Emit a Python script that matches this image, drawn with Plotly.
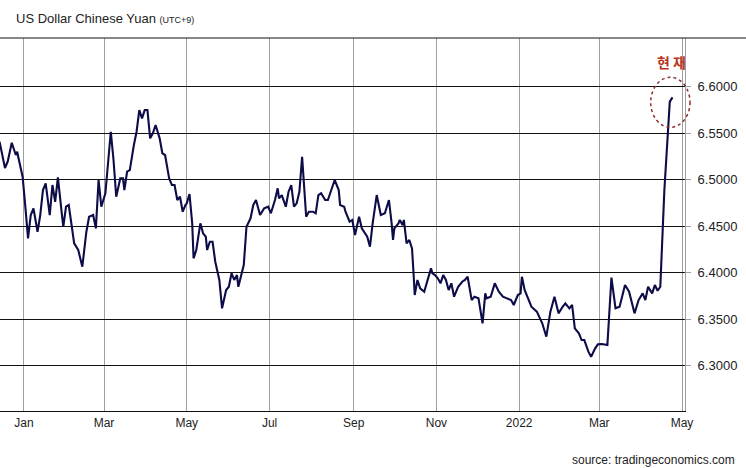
import plotly.graph_objects as go

dates = [
"2020-12-14","2020-12-18","2020-12-20","2020-12-23","2020-12-26","2020-12-27","2020-12-28","2020-12-31",
"2021-01-02","2021-01-04","2021-01-06","2021-01-08","2021-01-11","2021-01-13","2021-01-15","2021-01-17",
"2021-01-20","2021-01-22","2021-01-24","2021-01-26","2021-01-29","2021-01-30","2021-02-01","2021-02-03",
"2021-02-07","2021-02-10","2021-02-13","2021-02-16","2021-02-18","2021-02-21","2021-02-23","2021-02-25",
"2021-02-27","2021-03-02","2021-03-06","2021-03-08","2021-03-10","2021-03-13","2021-03-15","2021-03-16",
"2021-03-18","2021-03-20","2021-03-23","2021-03-25","2021-03-27","2021-03-29","2021-03-31","2021-04-02",
"2021-04-04","2021-04-06","2021-04-08","2021-04-11","2021-04-13","2021-04-15","2021-04-18","2021-04-20",
"2021-04-22","2021-04-24","2021-04-26","2021-04-28","2021-04-30","2021-05-01","2021-05-03","2021-05-05",
"2021-05-06","2021-05-08","2021-05-11","2021-05-13","2021-05-15","2021-05-16","2021-05-18","2021-05-20",
"2021-05-22","2021-05-25","2021-05-27","2021-05-30","2021-06-01","2021-06-03","2021-06-05","2021-06-07",
"2021-06-08","2021-06-10","2021-06-12","2021-06-14","2021-06-17","2021-06-19","2021-06-21","2021-06-24",
"2021-06-27","2021-06-30","2021-07-02","2021-07-05","2021-07-07","2021-07-08","2021-07-10","2021-07-13",
"2021-07-15","2021-07-17","2021-07-19","2021-07-21","2021-07-23","2021-07-25","2021-07-27","2021-07-28",
"2021-07-30","2021-08-02","2021-08-04","2021-08-06","2021-08-08","2021-08-11","2021-08-13","2021-08-16",
"2021-08-18","2021-08-21","2021-08-22","2021-08-25","2021-08-26","2021-08-29","2021-08-31","2021-09-02",
"2021-09-05","2021-09-07","2021-09-11","2021-09-13","2021-09-15","2021-09-18","2021-09-21","2021-09-24",
"2021-09-27","2021-09-29","2021-09-30","2021-10-01","2021-10-04","2021-10-05","2021-10-07","2021-10-08",
"2021-10-10","2021-10-12","2021-10-14","2021-10-15","2021-10-16","2021-10-18","2021-10-20","2021-10-23",
"2021-10-25","2021-10-28","2021-10-29","2021-10-31","2021-11-02","2021-11-04","2021-11-06","2021-11-08",
"2021-11-10","2021-11-12","2021-11-14","2021-11-17","2021-11-20","2021-11-22","2021-11-24","2021-11-27",
"2021-11-29","2021-12-02","2021-12-05","2021-12-07","2021-12-08","2021-12-11","2021-12-14","2021-12-17",
"2021-12-20","2021-12-23","2021-12-26","2021-12-28","2021-12-31","2022-01-02","2022-01-03","2022-01-05",
"2022-01-08","2022-01-10","2022-01-14","2022-01-18","2022-01-21","2022-01-24","2022-01-27","2022-01-30",
"2022-02-02","2022-02-04","2022-02-07","2022-02-09","2022-02-11","2022-02-14","2022-02-16","2022-02-18",
"2022-02-21","2022-02-23","2022-02-26","2022-02-28","2022-03-03","2022-03-07","2022-03-10","2022-03-13",
"2022-03-16","2022-03-20","2022-03-23","2022-03-27","2022-03-30","2022-04-02","2022-04-04","2022-04-06",
"2022-04-09","2022-04-11","2022-04-13","2022-04-15","2022-04-18","2022-04-21","2022-04-22","2022-04-24",
]

rates = [
6.5409,6.5126,6.5194,6.5398,6.5266,6.5301,6.5230,6.5032,
6.4710,6.4370,6.4620,6.4692,6.4441,6.4620,6.4889,6.4961,
6.4620,6.4943,6.4763,6.5026,6.4620,6.4495,6.4710,6.4728,
6.4316,6.4244,6.4065,6.4441,6.4602,6.4620,6.4477,6.4997,
6.4710,6.4854,6.5516,6.5212,6.4817,6.5015,6.5015,6.4889,
6.5086,6.5104,6.5373,6.5516,6.5749,6.5660,6.5749,6.5749,
6.5445,6.5499,6.5588,6.5445,6.5284,6.5266,6.5015,6.4943,
6.4943,6.4782,6.4817,6.4656,6.4728,6.4746,6.4846,6.4531,
6.4155,6.4244,6.4531,6.4424,6.4387,6.4244,6.4333,6.4333,
6.4118,6.3922,6.3617,6.3814,6.3849,6.3994,6.3922,6.3975,
6.3849,6.3957,6.4083,6.4495,6.4585,6.4728,6.4782,6.4620,
6.4692,6.4710,6.4639,6.4782,6.4908,6.4800,6.4835,6.4710,
6.4871,6.4943,6.4710,6.4746,6.4871,6.5247,6.4817,6.4602,
6.4656,6.4656,6.4639,6.4835,6.4854,6.4782,6.4782,6.4925,
6.4997,6.4889,6.4728,6.4710,6.4656,6.4548,6.4567,6.4405,
6.4602,6.4477,6.4387,6.4280,6.4531,6.4835,6.4620,6.4639,
6.4782,6.4531,6.4352,6.4477,6.4531,6.4567,6.4513,6.4567,
6.4316,6.4352,6.4262,6.4029,6.3760,6.3922,6.3832,6.3796,
6.3903,6.4047,6.3994,6.3975,6.3940,6.3886,6.3975,6.3922,
6.3814,6.3886,6.3742,6.3849,6.3903,6.3922,6.3957,6.3706,
6.3742,6.3725,6.3456,6.3778,6.3725,6.3742,6.3886,6.3796,
6.3742,6.3725,6.3706,6.3653,6.3760,6.3778,6.3957,6.3814,
6.3706,6.3634,6.3581,6.3456,6.3312,6.3581,6.3742,6.3563,
6.3634,6.3671,6.3617,6.3653,6.3402,6.3348,6.3276,6.3276,
6.3151,6.3097,6.3187,6.3230,6.3233,6.3222,6.3948,6.3617,
6.3634,6.3868,6.3796,6.3563,6.3706,6.3778,6.3706,6.3849,
6.3778,6.3868,6.3806,6.3849,6.4889,6.5588,6.5839,6.5886,
]

tick_dates = ["2021-01-01","2021-03-01","2021-05-01","2021-07-01","2021-09-01",
              "2021-11-01","2022-01-01","2022-03-01","2022-05-01"]
tick_labels = ["Jan","Mar","May","Jul","Sep","Nov","2022","Mar","May"]
y_ticks = [6.30, 6.35, 6.40, 6.45, 6.50, 6.55, 6.60]
y_tick_labels = ["6.3000","6.3500","6.4000","6.4500","6.5000","6.5500","6.6000"]

W, H = 746, 468
L, R, T, B = 0, 61, 38, 57
PW, PH = W - L - R, H - T - B

fig = go.Figure()
fig.add_trace(go.Scatter(
    x=dates, y=rates, mode="lines",
    line=dict(color="#0c0c48", width=2.1),
    hoverinfo="x+y", showlegend=False,
))

fig.update_layout(
    width=W, height=H,
    margin=dict(l=L, r=R, t=T, b=B, pad=0),
    paper_bgcolor="white", plot_bgcolor="white",
    font=dict(family="Liberation Sans, Arial, sans-serif", color="#222"),
    xaxis=dict(
        range=["2020-12-14 08:00", "2022-05-03 05:00"],
        tickvals=tick_dates, ticktext=tick_labels,
        showgrid=True, gridcolor="#a0a0a0", gridwidth=1,
        showline=True, linecolor="#111", linewidth=1.2,
        ticks="", tickfont=dict(size=12, color="#222"),
        zeroline=False,
    ),
    yaxis=dict(
        side="right", range=[6.2513, 6.6524],
        tickvals=y_ticks, ticktext=y_tick_labels,
        showgrid=True, gridcolor="#111", gridwidth=1,
        showline=True, linecolor="#a0a0a0", linewidth=1,
        ticks="outside", ticklen=5, tickcolor="#a0a0a0",
        ticklabelstandoff=4,
        tickfont=dict(size=13, color="#222"),
        zeroline=False,
    ),
)

# top border line across the full width
fig.add_shape(type="line", xref="paper", yref="paper",
              x0=0, x1=W / PW, y0=1, y1=1,
              line=dict(color="#111", width=1.2))

# dotted circle marking the latest value
fig.add_shape(type="circle", xref="paper", yref="paper",
              x0=650.7 / PW, x1=690 / PW,
              y0=(411 - 127.3) / PH, y1=(411 - 77.3) / PH,
              line=dict(color="#8e2c2c", width=1.5, dash="dot"))

fig.add_annotation(xref="paper", yref="paper", x=14 / PW, y=1 + (38 - 19) / PH,
                   xanchor="left", yanchor="middle", showarrow=False,
                   text="US Dollar Chinese Yuan <span style='font-size:9px'>(UTC+9)</span>",
                   font=dict(size=13, color="#222"))

fig.add_annotation(xref="paper", yref="paper", x=671 / PW, y=(411 - 62) / PH,
                   xanchor="center", yanchor="middle", showarrow=False,
                   text="<b>현 재</b>",
                   font=dict(size=14, color="#b8341c", family="Noto Sans CJK KR"))

fig.add_annotation(xref="paper", yref="paper", x=737 / PW, y=-(460 - 411) / PH,
                   xanchor="right", yanchor="middle", showarrow=False,
                   text="source: tradingeconomics.com",
                   font=dict(size=12, color="#222"))

fig.write_html("out.html",
               config={"displayModeBar": False},
               post_script="document.body.style.margin='0';document.body.style.padding='0';")
